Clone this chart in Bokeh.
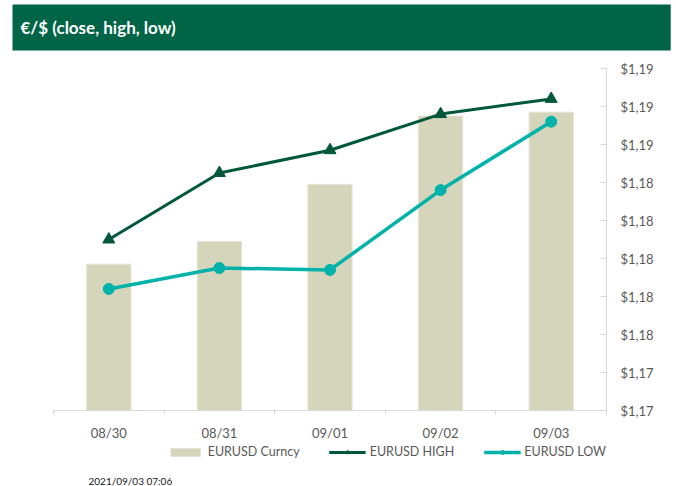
from bokeh.plotting import figure
from bokeh.models import Range1d, FixedTicker, Span, Legend, LegendItem, Title, Label
from bokeh.layouts import column
from bokeh.embed import file_html
from bokeh.resources import INLINE

# ---- data ----
dates = ["08/30", "08/31", "09/01", "09/02", "09/03"]
close = [1.1797, 1.1809, 1.1839, 1.1875, 1.1877]
high = [1.1810, 1.1845, 1.1857, 1.1876, 1.1884]
low = [1.1784, 1.1795, 1.1794, 1.1836, 1.1872]
y_ticks = [1.172, 1.174, 1.176, 1.178, 1.180, 1.182, 1.184, 1.186, 1.188, 1.190]
y_labels = ["$1,17", "$1,17", "$1,18", "$1,18", "$1,18",
            "$1,18", "$1,18", "$1,19", "$1,19", "$1,19"]
title_text = "€/$ (close, high, low)"
timestamp = "2021/09/03 07:06"
series_names = ["EURUSD Curncy", "EURUSD HIGH", "EURUSD LOW"]

# ---- styles ----
GREEN_BAR = "#006546"
BAR_COL = "#D5D5BC"
HIGH_COL = "#00583A"
LOW_COL = "#00B2A9"
TXT = "#595959"
AX = "#D9D9D9"
FONT = "Lato"

xs = list(range(len(dates)))


def draw_series(fig, **kw):
    b = fig.vbar(x=xs, top=close, bottom=y_ticks[0], width=0.4, fill_color=BAR_COL,
                 line_color="#E4E4D4", line_width=1, **kw)
    h1 = fig.line(xs, high, line_color=HIGH_COL, line_width=3, **kw)
    h2 = fig.scatter(xs, high, marker="triangle", size=12, fill_color=HIGH_COL,
                     line_color=HIGH_COL, **kw)
    l1 = fig.line(xs, low, line_color=LOW_COL, line_width=3.5, **kw)
    l2 = fig.scatter(xs, low, marker="circle", size=11, fill_color=LOW_COL,
                     line_color=LOW_COL, **kw)
    return b, (h1, h2), (l1, l2)


# ================= main chart =================
ext = 0.00021
p = figure(frame_width=553, frame_height=346, x_range=Range1d(-0.5, len(dates) - 0.5),
           y_range=Range1d(y_ticks[0] - ext, y_ticks[-1]),
           y_axis_location="right", toolbar_location=None, output_backend="svg",
           min_border_left=53, min_border_right=70, min_border_top=68, min_border_bottom=30)
p.grid.visible = False
p.outline_line_color = None

# green title bar
p.title = Title(text=title_text, align="left", offset=-41, vertical_align="top",
                text_font=FONT, text_font_style="bold", text_font_size="17px",
                text_color="white", background_fill_color=GREEN_BAR, border_line_color=None,
                padding=dict(left=8, right=495, top=12, bottom=13), standoff=0)
# spacer between title bar and plot area
p.add_layout(Title(text=" ", text_font_size="1px", standoff=13), "above")

p.add_layout(Span(location=y_ticks[0], dimension="width", line_color=AX, line_width=1))

draw_series(p)

xa = p.xaxis[0]
xa.ticker = FixedTicker(ticks=xs, minor_ticks=[x - 0.5 for x in xs] + [xs[-1] + 0.5])
xa.major_label_overrides = {x: d for x, d in zip(xs, dates)}
xa.major_tick_line_color = None
xa.minor_tick_line_color = AX
xa.minor_tick_in = 4
xa.minor_tick_out = 0
xa.axis_line_color = None
xa.major_label_standoff = 4
xa.major_label_text_font = FONT
xa.major_label_text_font_size = "13px"
xa.major_label_text_color = TXT

ya = p.yaxis[0]
ya.ticker = FixedTicker(ticks=y_ticks)
ya.major_label_overrides = {t: l for t, l in zip(y_ticks, y_labels)}
ya.major_tick_in = 6
ya.major_tick_out = 0
ya.major_tick_line_color = AX
ya.minor_tick_line_color = None
ya.axis_line_color = AX
ya.major_label_standoff = 14
ya.major_label_text_font = FONT
ya.major_label_text_font_size = "13px"
ya.major_label_text_color = TXT

# ================= legend strip =================
q = figure(frame_width=553, frame_height=42, x_range=Range1d(0, 553), y_range=Range1d(0, 42),
           toolbar_location=None, output_backend="svg",
           min_border_left=53, min_border_right=70, min_border_top=0, min_border_bottom=0)
q.axis.visible = False
q.grid.visible = False
q.outline_line_color = None
# series drawn on an off-screen range: they only provide the legend swatches
q.extra_y_ranges = {"off": Range1d(100, 101)}
lb, lh, ll = draw_series(q, y_range_name="off")

legend = Legend(items=[LegendItem(label=series_names[0], renderers=[lb]),
                       LegendItem(label=series_names[1], renderers=list(lh)),
                       LegendItem(label=series_names[2], renderers=list(ll))],
                orientation="horizontal", location="top_right",
                border_line_color=None, background_fill_alpha=0,
                padding=4, margin=0, spacing=29, glyph_width=37, glyph_height=10,
                label_height=10, label_standoff=4, label_text_font=FONT,
                label_text_font_size="12.5px", label_text_color=TXT)
q.add_layout(legend)

q.add_layout(Label(x=35, y=6, text=timestamp, text_font=FONT, text_font_size="10px",
                   text_baseline="middle", text_color="#1a1a1a"))

open("out.html", "w").write(file_html(column(p, q), INLINE))
